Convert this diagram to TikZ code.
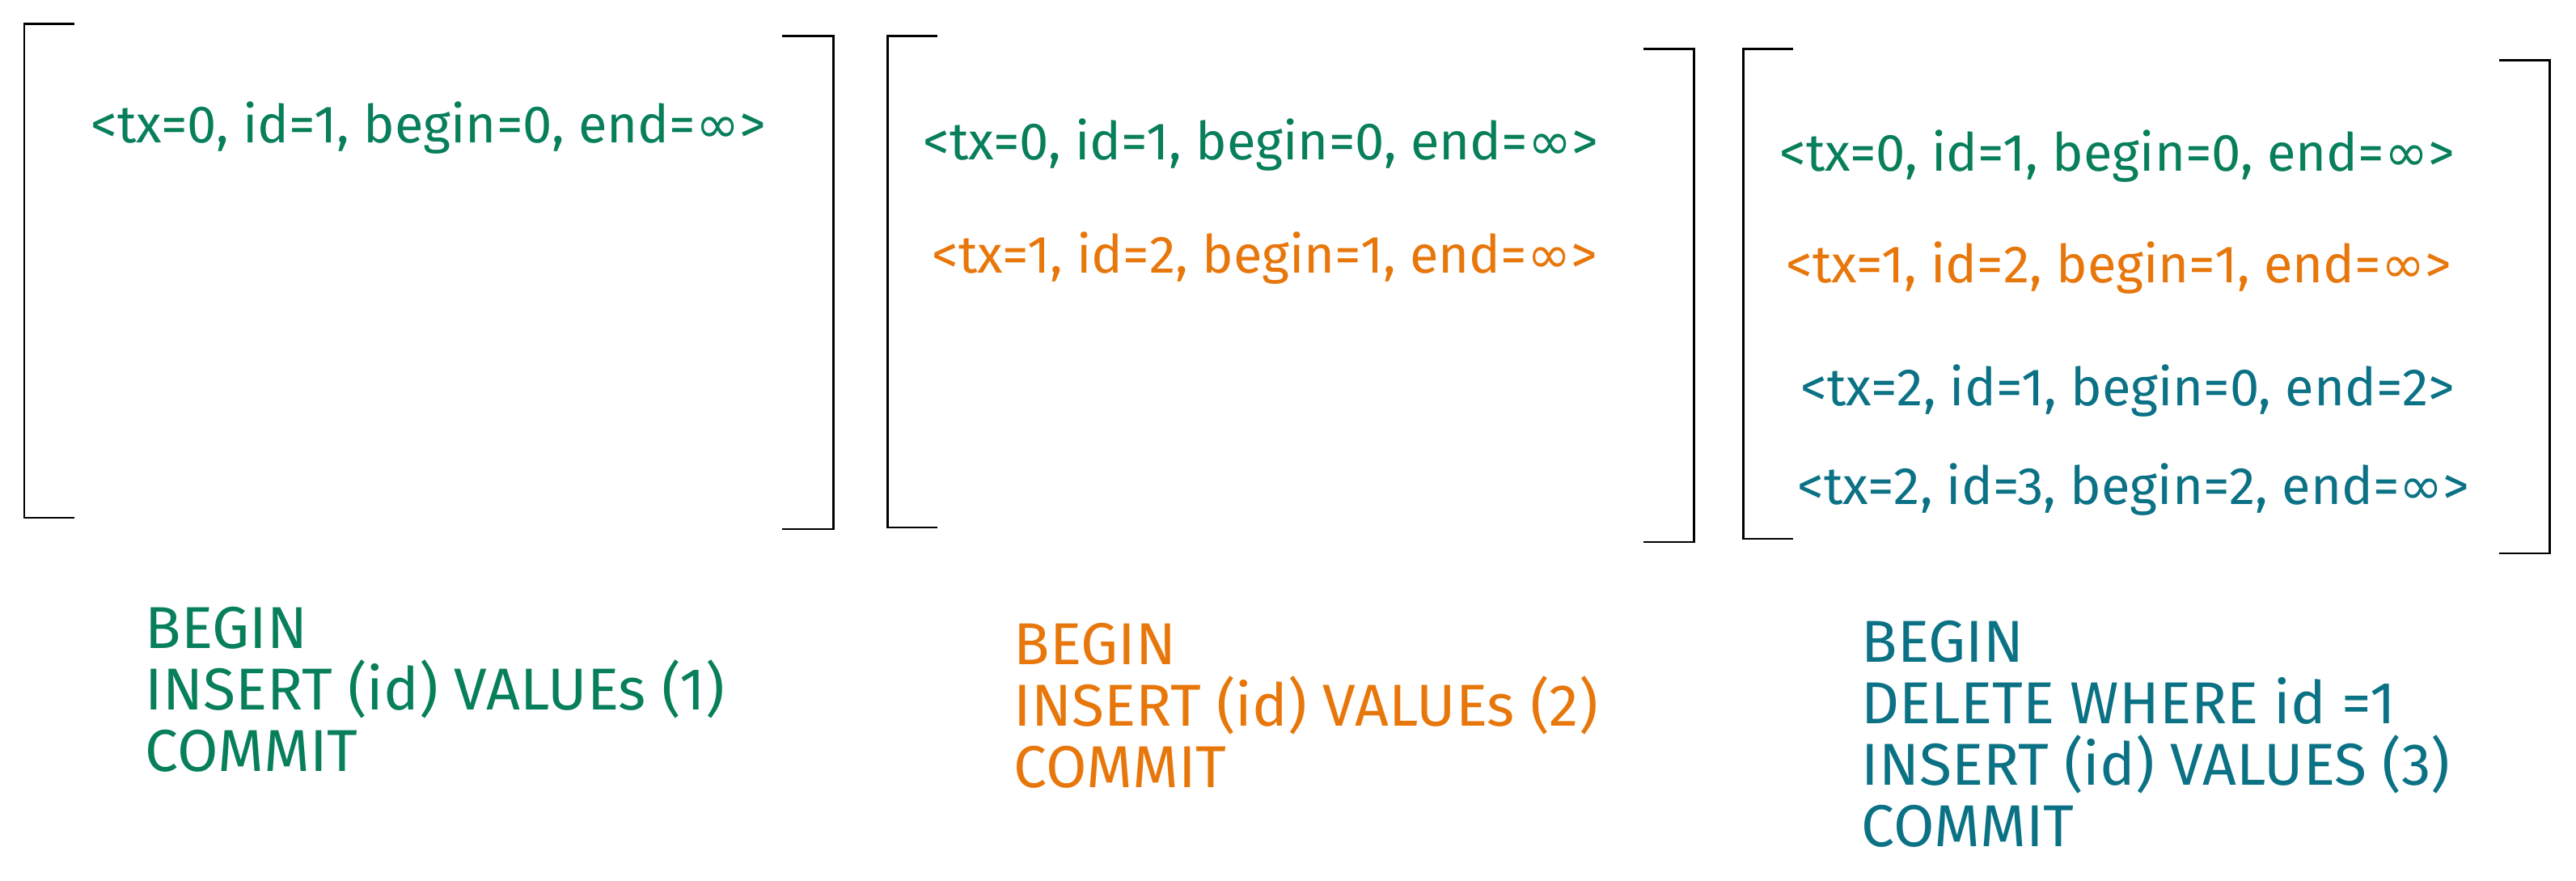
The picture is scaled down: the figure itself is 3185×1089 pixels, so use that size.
\documentclass[tikz,border=0pt]{standalone}
\usepackage{fontspec}
\setmainfont{Fira Sans}
\newfontfamily\symf{DejaVu Sans}
\definecolor{txgreen}{HTML}{087F5B}
\definecolor{txorange}{HTML}{E8770B}
\definecolor{txteal}{HTML}{0B7285}
\newcommand{\infsym}{{\symf ∞}}
\begin{document}
\begin{tikzpicture}[x=0.01cm,y=-0.01cm,
  brk/.style={draw=black,line width=0.85pt},
  row/.style={anchor=west,inner sep=0pt,font=\fontsize{18.5}{22}\selectfont},
  sql/.style={anchor=west,inner sep=0pt,align=left,font=\fontsize{20.8}{21.6}\selectfont}]
\useasboundingbox[fill=white] (0,0) rectangle (3185,1089);
% brackets
\draw[brk] (92,30) -- (30,30) -- (30,640) -- (92,640);
\draw[brk] (967,45) -- (1030,45) -- (1030,654) -- (967,654);
\draw[brk] (1159,45) -- (1097,45) -- (1097,652) -- (1159,652);
\draw[brk] (2032,61) -- (2094,61) -- (2094,670) -- (2032,670);
\draw[brk] (2217,61) -- (2155,61) -- (2155,666) -- (2217,666);
\draw[brk] (3090,75) -- (3152,75) -- (3152,684) -- (3090,684);
% rows
\node[row,text=txgreen] (r1a) at (112,158) {<tx=0, id=1, begin=0, end=\infsym>};
\node[row,text=txgreen] (r2a) at (1141,179) {<tx=0, id=1, begin=0, end=\infsym>};
\node[row,text=txorange] (r2b) at (1152,319) {<tx=1, id=2, begin=1, end=\infsym>};
\node[row,text=txgreen] (r3a) at (2200,193) {<tx=0, id=1, begin=0, end=\infsym>};
\node[row,text=txorange] (r3b) at (2208,331) {<tx=1, id=2, begin=1, end=\infsym>};
\node[row,text=txteal] (r3c) at (2226,483) {<tx=2, id=1, begin=0, end=2>};
\node[row,text=txteal] (r3d) at (2222,605) {<tx=2, id=3, begin=2, end=\infsym>};
% statements
\node[sql,text=txgreen] (q1) at (179,852) {BEGIN\\INSERT (id) VALUEs (1)\\COMMIT};
\node[sql,text=txorange] (q2) at (1253,872) {BEGIN\\INSERT (id) VALUEs (2)\\COMMIT};
\node[sql,text=txteal] (q3) at (2301,907) {BEGIN\\DELETE WHERE id =1\\INSERT (id) VALUES (3)\\COMMIT};
\end{tikzpicture}
\end{document}
